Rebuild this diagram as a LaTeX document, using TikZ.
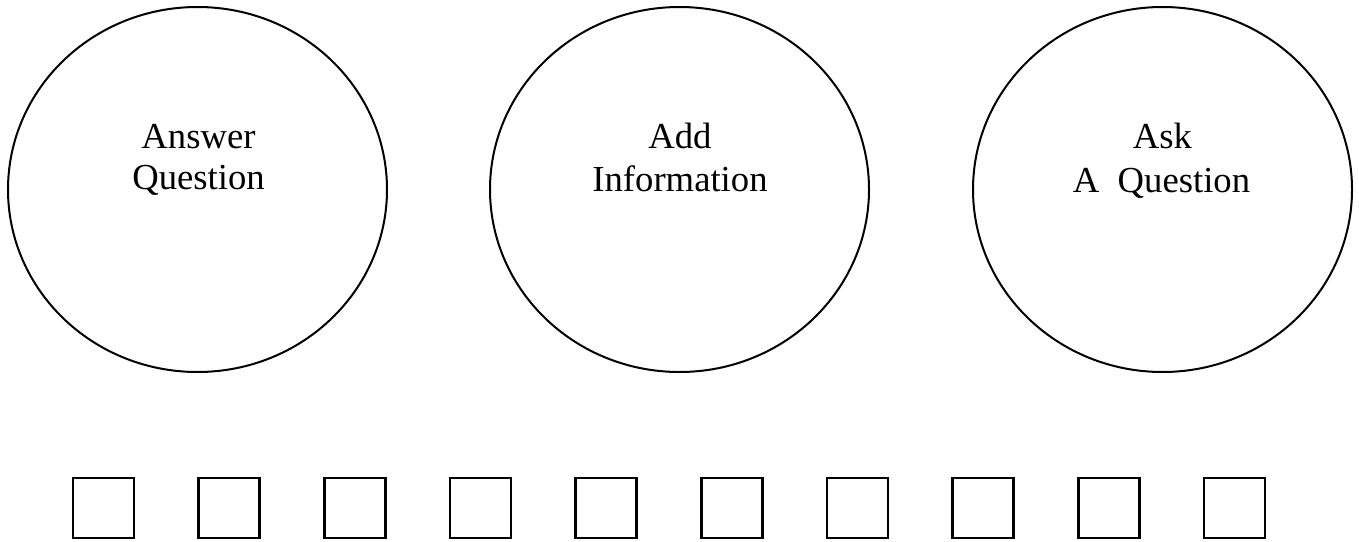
\documentclass[tikz,border=0pt]{standalone}
\usepackage{fontspec}
\setmainfont{Liberation Serif}
\usetikzlibrary{shapes.geometric}
\begin{document}
\begin{tikzpicture}[x=0.75pt,y=-0.75pt,
  bubble/.style={draw, ellipse, line width=1.5pt, minimum width=379*0.75pt, minimum height=365*0.75pt, inner sep=0pt},
  boxitem/.style={draw, rectangle, line width=2pt, minimum width=61*0.75pt, minimum height=60*0.75pt, inner sep=0pt},
  lbl/.style={anchor=base, inner sep=0pt, font=\fontsize{27.5}{30}\selectfont}]
\useasboundingbox (0,0) rectangle (1359,542);
\node[bubble] (e1) at (197.5,189.5) {};
\node[bubble] (e2) at (679.5,189.5) {};
\node[bubble] (e3) at (1162.5,189.5) {};
\node[lbl] (t1a) at (198.5,148) {Answer};
\node[lbl] (t1b) at (198.5,189) {Question};
\node[lbl] (t2a) at (680,148) {Add};
\node[lbl] (t2b) at (680,191) {Information};
\node[lbl] (t3a) at (1162.5,148) {Ask};
\node[lbl] (t3b) at (1161.5,192) {A\ \ Question};
\foreach \i in {0,...,9} {
  \node[boxitem] (b\i) at (103.5+\i*125.67,508) {};
}
\end{tikzpicture}
\end{document}
